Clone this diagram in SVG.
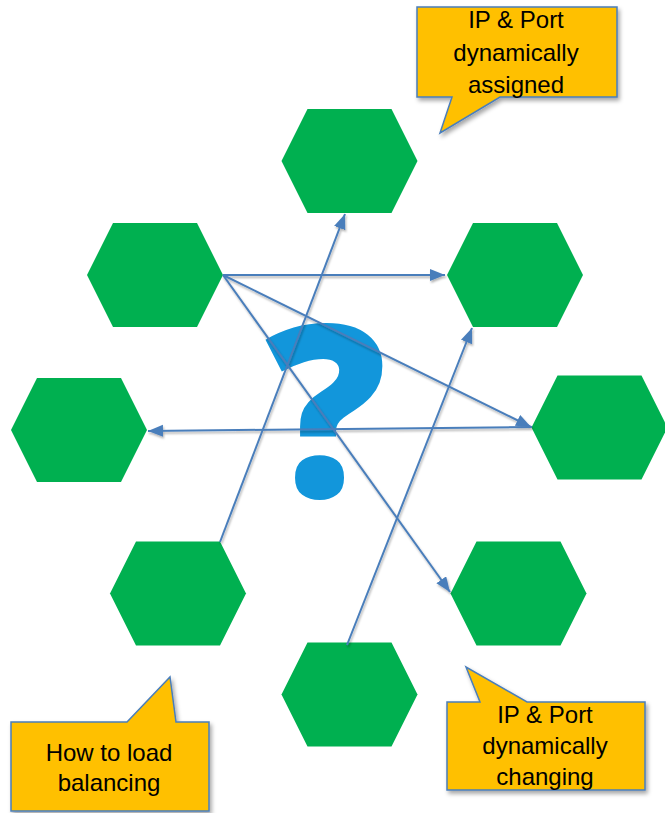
<svg xmlns="http://www.w3.org/2000/svg" width="665" height="813" viewBox="0 0 665 813">
<style>
.hex{fill:#00B050}
.con{stroke:#4A7EBB;stroke-width:2;fill:none}
.callout{fill:#FFC000;stroke:#4A7EBB;stroke-width:1.5}
.ct{font-family:"Liberation Sans",Arial,sans-serif;font-size:24px;fill:#000;text-anchor:middle}
.q{font-family:"Open Sans","Liberation Sans",Arial,sans-serif;font-weight:800;font-size:240px;fill:#1296DB;text-anchor:middle}
</style>
<defs>
<polygon id="hexshape" points="-68,0 -42,-52 42,-52 68,0 42,52 -42,52"/>
<marker id="ah" markerUnits="userSpaceOnUse" markerWidth="16" markerHeight="14" refX="15" refY="6" orient="auto">
<path d="M0,0 L15,6 L0,12 Z" fill="#4A7EBB"/>
</marker>
<filter id="sh" x="-10%" y="-10%" width="130%" height="130%">
<feDropShadow dx="2" dy="3" stdDeviation="2" flood-color="#000" flood-opacity="0.35"/>
</filter>
<filter id="lsh" x="-10%" y="-10%" width="130%" height="130%">
<feDropShadow dx="1" dy="2" stdDeviation="1.2" flood-color="#000" flood-opacity="0.3"/>
</filter>
</defs>

<g id="nodes">
<g id="hex-top"><use href="#hexshape" class="hex" x="349.5" y="161"/></g>
<g id="hex-top-left"><use href="#hexshape" class="hex" x="155" y="275"/></g>
<g id="hex-right-upper"><use href="#hexshape" class="hex" x="515" y="275"/></g>
<g id="hex-left"><use href="#hexshape" class="hex" x="79" y="430"/></g>
<g id="hex-right-middle"><use href="#hexshape" class="hex" x="599.5" y="427.5"/></g>
<g id="hex-right-lower"><use href="#hexshape" class="hex" x="518.5" y="593.5"/></g>
<g id="hex-bottom-left"><use href="#hexshape" class="hex" x="178" y="593.5"/></g>
<g id="hex-bottom"><use href="#hexshape" class="hex" x="349.5" y="694.5"/></g>
</g>

<g id="question"><text class="q" x="326" y="497">?</text></g>

<g id="connectors" filter="url(#lsh)">
<line class="con" x1="223" y1="275" x2="445" y2="275" marker-end="url(#ah)"/>
<line class="con" x1="223" y1="275" x2="531" y2="427" marker-end="url(#ah)"/>
<line class="con" x1="223" y1="275" x2="450" y2="592" marker-end="url(#ah)"/>
<line class="con" x1="532" y1="427" x2="148" y2="431" marker-end="url(#ah)"/>
<line class="con" x1="220" y1="542" x2="345" y2="214" marker-end="url(#ah)"/>
<line class="con" x1="347" y1="645" x2="472" y2="328" marker-end="url(#ah)"/>
</g>

<g id="callout-assigned">
<path class="callout" filter="url(#sh)" d="M417,7 H617 V97 H500 L440,133 L452,97 H417 Z"/>
<text class="ct" x="516" y="28">IP &amp; Port</text>
<text class="ct" x="516" y="61">dynamically</text>
<text class="ct" x="516" y="93">assigned</text>
</g>

<g id="callout-load">
<path class="callout" filter="url(#sh)" d="M11,722 H127 L170,677 L176,722 H209 V811 H11 Z"/>
<text class="ct" x="109" y="761">How to load</text>
<text class="ct" x="109" y="791">balancing</text>
</g>

<g id="callout-changing">
<path class="callout" filter="url(#sh)" d="M447,702 H480 L466,667 L527,702 H645 V790 H447 Z"/>
<text class="ct" x="545" y="723">IP &amp; Port</text>
<text class="ct" x="545" y="754">dynamically</text>
<text class="ct" x="545" y="785">changing</text>
</g>
</svg>
